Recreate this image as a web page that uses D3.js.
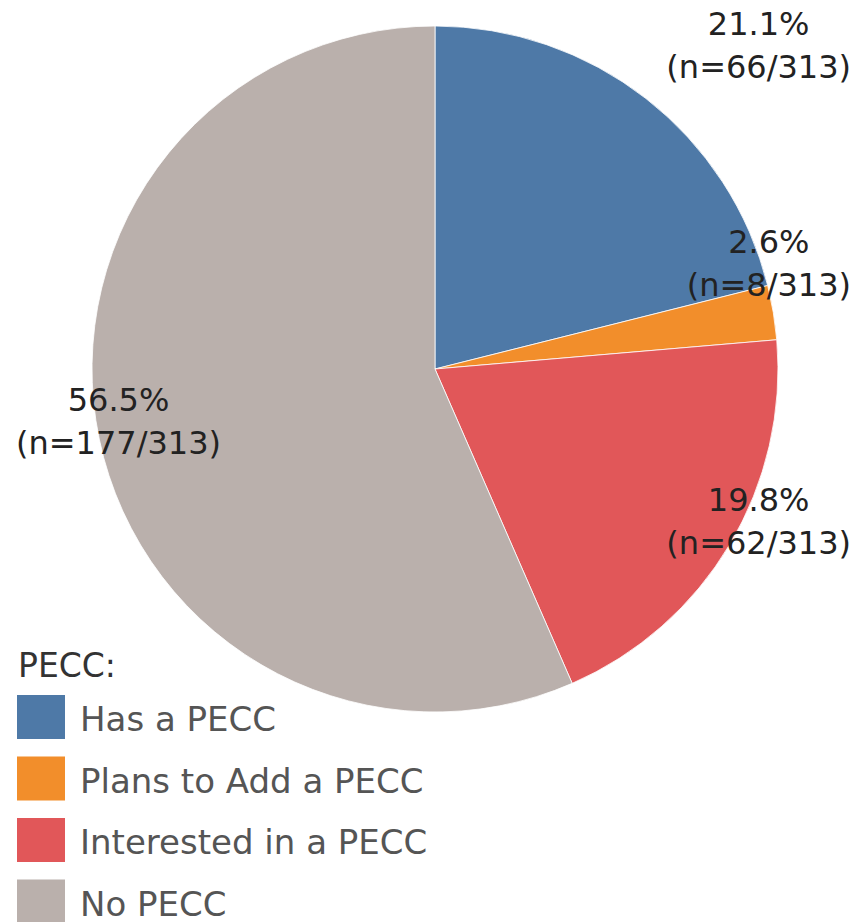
<!DOCTYPE html>
<html>
<head>
<meta charset="utf-8">
<script src="https://cdn.jsdelivr.net/npm/d3@7"></script>
<style>
  html, body { margin: 0; padding: 0; background: #fff; }
  svg { display: block; font-family: "DejaVu Sans", sans-serif; }
</style>
</head>
<body>
<div id="chart"></div>
<script>
// data
const categories = ['Has a PECC', 'Plans to Add a PECC', 'Interested in a PECC', 'No PECC'];
const counts = [66, 8, 62, 177];
const total = 313;
const colors = ['#4e79a7', '#f28e2b', '#e15759', '#bab0ac'];
const legendTitle = 'PECC:';

const _w = 854, _h = 922;
const cx = 435, cy = 369, radius = 343;

// tableau nudges its labels so they don't collide, keep that here
const labelShift = {
  'Has a PECC': -54,
  'Plans to Add a PECC': -49,
  'Interested in a PECC': -23,
  'No PECC': -18
};

const svg = d3.select('#chart').append('svg')
  .attr('width', _w)
  .attr('height', _h);

const nodes = categories.map((c, i) => ({ cat: c, n: counts[i], color: colors[i] }));

const pie = d3.pie().sort(null).value(d => d.n);
const arc = d3.arc().innerRadius(0).outerRadius(radius);
const labelArc = d3.arc().innerRadius(radius).outerRadius(radius);

const g = svg.append('g').attr('transform', `translate(${cx},${cy})`);

const arcs = pie(nodes);

g.selectAll('.slice')
  .data(arcs)
  .enter().append('path')
  .attr('class', 'slice')
  .attr('d', arc)
  .attr('fill', d => d.data.color)
  .attr('stroke', '#fff')
  .attr('stroke-width', 0.8);

const pct = d3.format('.1%');
const fontSize = 32, lineH = 43;

const labels = svg.selectAll('.lbl')
  .data(arcs)
  .enter().append('text')
  .attr('class', 'lbl')
  .attr('text-anchor', 'middle')
  .attr('font-size', fontSize)
  .attr('fill', '#222');

labels.each(function(d) {
  const t = d3.select(this);
  const l1 = t.append('tspan').text(pct(d.data.n / total));
  const l2 = t.append('tspan').text(`(n=${d.data.n}/${total})`);
  const bw = Math.max(l1.node().getComputedTextLength(), l2.node().getComputedTextLength());
  const [px, py] = labelArc.centroid(d);
  const mid = (d.startAngle + d.endAngle) / 2;
  // push block against the view edge on its side
  const x = mid < Math.PI ? _w - 3 - bw / 2 : 16 + bw / 2;
  const y = cy + py + labelShift[d.data.cat];
  l1.attr('x', x).attr('y', y - 10);
  l2.attr('x', x).attr('y', y - 10 + lineH);
});

// legend
const legend = svg.append('g');
legend.append('text')
  .attr('x', 18)
  .attr('y', 677)
  .attr('font-size', 33)
  .attr('fill', '#333')
  .text(legendTitle);

const ly = d3.scaleLinear().domain([0, 1]).range([695, 756.5]);

const items = legend.selectAll('.item')
  .data(nodes)
  .enter().append('g')
  .attr('class', 'item')
  .attr('transform', (d, i) => `translate(17,${ly(i)})`);

items.append('rect')
  .attr('width', 48)
  .attr('height', 44)
  .attr('fill', d => d.color);

items.append('text')
  .attr('x', 63)
  .attr('y', 36)
  .attr('font-size', 34)
  .attr('fill', '#555')
  .text(d => d.cat);
</script>
</body>
</html>
